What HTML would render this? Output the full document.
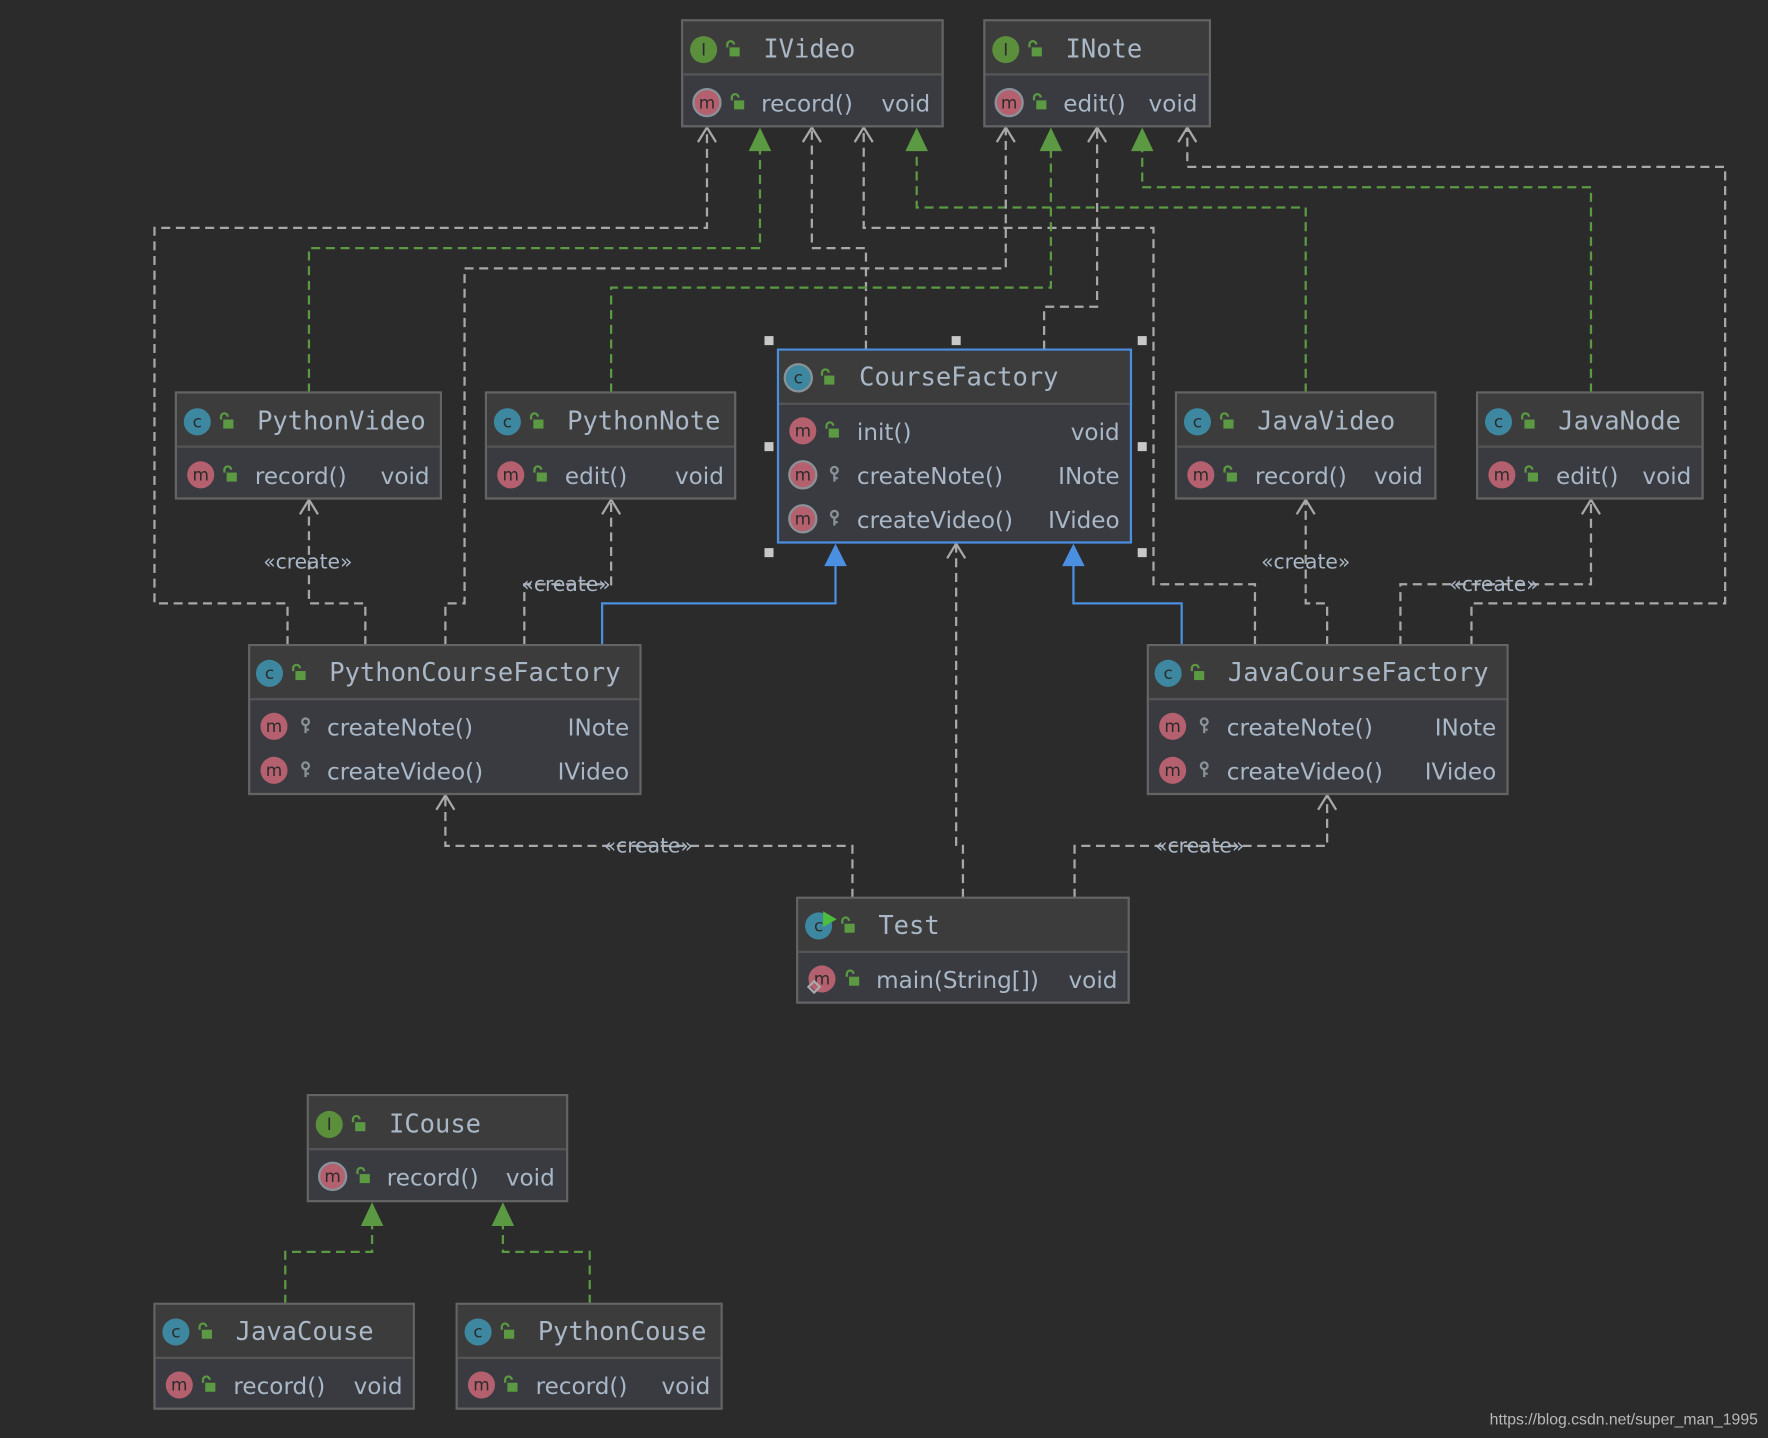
<!DOCTYPE html>
<html><head><meta charset="utf-8"><style>
html,body{margin:0;padding:0;background:#2b2b2b;}
svg{display:block}
text{white-space:pre}
.h{font-family:"DejaVu Sans Mono","Liberation Mono",monospace;font-size:22.6px;fill:#a9b7c6}
.r{font-family:"DejaVu Sans","Liberation Sans",sans-serif;font-size:20.5px;fill:#a9b7c6}
.lb{font-family:"DejaVu Sans","Liberation Sans",sans-serif;font-size:18px;fill:#a9b7c6}
.il{font-family:"DejaVu Sans",sans-serif;font-size:15px;fill:#2b2b2b;text-anchor:middle}
.g{fill:none;stroke:#a8a8a8;stroke-width:2;stroke-dasharray:8 5}
.gr{fill:none;stroke:#5b9a43;stroke-width:2;stroke-dasharray:8 5}
.bl{fill:none;stroke:#4a8fe0;stroke-width:2}
</style></head><body>
<svg width="1768" height="1438" viewBox="0 0 1568 1275" preserveAspectRatio="none" xmlns="http://www.w3.org/2000/svg" xml:space="preserve">
<defs>
<marker id="oa" markerWidth="20" markerHeight="20" refX="18" refY="10" orient="auto" markerUnits="userSpaceOnUse" viewBox="0 0 20 20"><path d="M5 2 L18 10 L5 18" fill="none" stroke="#a8a8a8" stroke-width="2"/></marker>
<g id="lk"><path d="M1 4 V1.5 A3 3 0 0 1 7 1.5" fill="none" stroke="#5b9a43" stroke-width="2"/><rect x="3" y="4" width="9" height="8" fill="#5b9a43"/></g>
<g id="key"><circle cx="4" cy="3" r="3" fill="none" stroke="#8a9299" stroke-width="2"/><rect x="3" y="5" width="2" height="8" fill="#8a9299"/><rect x="5" y="9" width="2" height="2" fill="#8a9299"/></g>
</defs>
<rect width="1568" height="1275" fill="#2b2b2b"/>

<g>
<path class="g" d="M255 572 V535 H137 V202 H627 V113" marker-end="url(#oa)"/>
<path class="gr" d="M274 348 V220 H674 V132"/>
<path class="g" d="M768 310 V220 H720 V113" marker-end="url(#oa)"/>
<path class="g" d="M1113 572 V518 H1023 V202 H766 V113" marker-end="url(#oa)"/>
<path class="gr" d="M1158 348 V184 H813 V132"/>
<path class="g" d="M395 572 V535 H412 V238 H892 V113" marker-end="url(#oa)"/>
<path class="gr" d="M542 348 V255 H932 V132"/>
<path class="g" d="M926 310 V272 H973 V113" marker-end="url(#oa)"/>
<path class="gr" d="M1411 348 V166 H1013 V132"/>
<path class="g" d="M1305 572 V535 H1530 V148 H1053 V113" marker-end="url(#oa)"/>
<path class="g" d="M324 572 V535 H274 V443" marker-end="url(#oa)"/>
<path class="g" d="M465 572 V518 H542 V443" marker-end="url(#oa)"/>
<path class="bl" d="M534 572 V535 H741 V500"/>
<path class="bl" d="M1048 572 V535 H952 V500"/>
<path class="g" d="M854 796 V750 H848 V482" marker-end="url(#oa)"/>
<path class="g" d="M1177 572 V535 H1158 V443" marker-end="url(#oa)"/>
<path class="g" d="M1242 572 V518 H1411 V443" marker-end="url(#oa)"/>
<path class="g" d="M756 796 V750 H395 V705" marker-end="url(#oa)"/>
<path class="g" d="M953 796 V750 H1177 V705" marker-end="url(#oa)"/>
<path class="gr" d="M253 1156 V1110 H330 V1085"/>
<path class="gr" d="M523 1156 V1110 H446 V1085"/>
<g fill="#5b9a43">
<path d="M674 113 L664 134 L684 134Z"/><path d="M813 113 L803 134 L823 134Z"/>
<path d="M932 113 L922 134 L942 134Z"/><path d="M1013 113 L1003 134 L1023 134Z"/>
<path d="M330 1066 L320 1087 L340 1087Z"/><path d="M446 1066 L436 1087 L456 1087Z"/>
</g>
<g fill="#4a8fe0"><path d="M741 482 L731 502 L751 502Z"/><path d="M952 482 L942 502 L962 502Z"/></g>
<text class="lb" x="273" y="504" text-anchor="middle">«create»</text>
<text class="lb" x="502" y="524" text-anchor="middle">«create»</text>
<text class="lb" x="1158" y="504" text-anchor="middle">«create»</text>
<text class="lb" x="1325" y="524" text-anchor="middle">«create»</text>
<text class="lb" x="575" y="756" text-anchor="middle">«create»</text>
<text class="lb" x="1064" y="756" text-anchor="middle">«create»</text>
</g>

<g>
<rect x="605" y="18" width="231" height="94" fill="#393b40" stroke="#646464" stroke-width="2"/>
<rect x="606" y="19" width="229" height="47" fill="#3c3c3c"/><line x1="606" y1="66" x2="835" y2="66" stroke="#555" stroke-width="2"/>
<circle cx="624" cy="44" r="12" fill="#5b8f3c"/><text class="il" x="624" y="49">I</text><use href="#lk" x="644" y="38"/>
<text class="h" x="677" y="51">IVideo</text>
<circle cx="627" cy="91" r="12" fill="#b5606e" stroke="#8a9299" stroke-width="2"/><text class="il" x="627" y="96">m</text><use href="#lk" x="648" y="85"/>
<text class="r" x="675" y="99">record()</text><text class="r" x="825" y="99" text-anchor="end">void</text>
</g>
<g>
<rect x="873" y="18" width="200" height="94" fill="#393b40" stroke="#646464" stroke-width="2"/>
<rect x="874" y="19" width="198" height="47" fill="#3c3c3c"/><line x1="874" y1="66" x2="1072" y2="66" stroke="#555" stroke-width="2"/>
<circle cx="892" cy="44" r="12" fill="#5b8f3c"/><text class="il" x="892" y="49">I</text><use href="#lk" x="912" y="38"/>
<text class="h" x="945" y="51">INote</text>
<circle cx="895" cy="91" r="12" fill="#b5606e" stroke="#8a9299" stroke-width="2"/><text class="il" x="895" y="96">m</text><use href="#lk" x="916" y="85"/>
<text class="r" x="943" y="99">edit()</text><text class="r" x="1062" y="99" text-anchor="end">void</text>
</g>
<g>
<rect x="690" y="310" width="313" height="171" fill="#393b40" stroke="#4a8fe0" stroke-width="2"/>
<rect x="691" y="311" width="311" height="47" fill="#3c3c3c"/><line x1="691" y1="358" x2="1002" y2="358" stroke="#555" stroke-width="2"/>
<circle cx="708" cy="335" r="12" fill="#3d88a0" stroke="#8a9299" stroke-width="2"/><text class="il" x="708" y="340">c</text><use href="#lk" x="728" y="329"/>
<text class="h" x="762" y="342">CourseFactory</text>
<circle cx="712" cy="382" r="12" fill="#b5606e"/><text class="il" x="712" y="387">m</text><use href="#lk" x="732" y="376"/>
<text class="r" x="760" y="390">init()</text><text class="r" x="993" y="390" text-anchor="end">void</text>
<circle cx="712" cy="421" r="12" fill="#b5606e" stroke="#8a9299" stroke-width="2"/><text class="il" x="712" y="426">m</text><use href="#key" x="736" y="414"/>
<text class="r" x="760" y="429">createNote()</text><text class="r" x="993" y="429" text-anchor="end">INote</text>
<circle cx="712" cy="460" r="12" fill="#b5606e" stroke="#8a9299" stroke-width="2"/><text class="il" x="712" y="465">m</text><use href="#key" x="736" y="453"/>
<text class="r" x="760" y="468">createVideo()</text><text class="r" x="993" y="468" text-anchor="end">IVideo</text>
</g>
<g fill="#c8c8c8"><rect x="678" y="298" width="8" height="8"/><rect x="844" y="298" width="8" height="8"/><rect x="1009" y="298" width="8" height="8"/><rect x="678" y="392" width="8" height="8"/><rect x="1009" y="392" width="8" height="8"/><rect x="678" y="486" width="8" height="8"/><rect x="1009" y="486" width="8" height="8"/></g>

<g>
<rect x="156" y="348" width="235" height="94" fill="#393b40" stroke="#646464" stroke-width="2"/>
<rect x="157" y="349" width="233" height="47" fill="#3c3c3c"/><line x1="157" y1="396" x2="390" y2="396" stroke="#555" stroke-width="2"/>
<circle cx="175" cy="374" r="12" fill="#3d88a0"/><text class="il" x="175" y="379">c</text><use href="#lk" x="195" y="368"/>
<text class="h" x="228" y="381">PythonVideo</text>
<circle cx="178" cy="421" r="12" fill="#b5606e"/><text class="il" x="178" y="426">m</text><use href="#lk" x="198" y="415"/>
<text class="r" x="226" y="429">record()</text><text class="r" x="381" y="429" text-anchor="end">void</text>
</g>
<g>
<rect x="431" y="348" width="221" height="94" fill="#393b40" stroke="#646464" stroke-width="2"/>
<rect x="432" y="349" width="219" height="47" fill="#3c3c3c"/><line x1="432" y1="396" x2="651" y2="396" stroke="#555" stroke-width="2"/>
<circle cx="450" cy="374" r="12" fill="#3d88a0"/><text class="il" x="450" y="379">c</text><use href="#lk" x="470" y="368"/>
<text class="h" x="503" y="381">PythonNote</text>
<circle cx="453" cy="421" r="12" fill="#b5606e"/><text class="il" x="453" y="426">m</text><use href="#lk" x="473" y="415"/>
<text class="r" x="501" y="429">edit()</text><text class="r" x="642" y="429" text-anchor="end">void</text>
</g>
<g>
<rect x="1043" y="348" width="230" height="94" fill="#393b40" stroke="#646464" stroke-width="2"/>
<rect x="1044" y="349" width="228" height="47" fill="#3c3c3c"/><line x1="1044" y1="396" x2="1272" y2="396" stroke="#555" stroke-width="2"/>
<circle cx="1062" cy="374" r="12" fill="#3d88a0"/><text class="il" x="1062" y="379">c</text><use href="#lk" x="1082" y="368"/>
<text class="h" x="1115" y="381">JavaVideo</text>
<circle cx="1065" cy="421" r="12" fill="#b5606e"/><text class="il" x="1065" y="426">m</text><use href="#lk" x="1085" y="415"/>
<text class="r" x="1113" y="429">record()</text><text class="r" x="1262" y="429" text-anchor="end">void</text>
</g>
<g>
<rect x="1310" y="348" width="200" height="94" fill="#393b40" stroke="#646464" stroke-width="2"/>
<rect x="1311" y="349" width="198" height="47" fill="#3c3c3c"/><line x1="1311" y1="396" x2="1509" y2="396" stroke="#555" stroke-width="2"/>
<circle cx="1329" cy="374" r="12" fill="#3d88a0"/><text class="il" x="1329" y="379">c</text><use href="#lk" x="1349" y="368"/>
<text class="h" x="1382" y="381">JavaNode</text>
<circle cx="1332" cy="421" r="12" fill="#b5606e"/><text class="il" x="1332" y="426">m</text><use href="#lk" x="1352" y="415"/>
<text class="r" x="1380" y="429">edit()</text><text class="r" x="1500" y="429" text-anchor="end">void</text>
</g>
<g>
<rect x="221" y="572" width="347" height="132" fill="#393b40" stroke="#646464" stroke-width="2"/>
<rect x="222" y="573" width="345" height="47" fill="#3c3c3c"/><line x1="222" y1="620" x2="567" y2="620" stroke="#555" stroke-width="2"/>
<circle cx="239" cy="597" r="12" fill="#3d88a0"/><text class="il" x="239" y="602">c</text><use href="#lk" x="259" y="591"/>
<text class="h" x="292" y="604">PythonCourseFactory</text>
<circle cx="243" cy="644" r="12" fill="#b5606e"/><text class="il" x="243" y="649">m</text><use href="#key" x="267" y="637"/>
<text class="r" x="290" y="652">createNote()</text><text class="r" x="558" y="652" text-anchor="end">INote</text>
<circle cx="243" cy="683" r="12" fill="#b5606e"/><text class="il" x="243" y="688">m</text><use href="#key" x="267" y="676"/>
<text class="r" x="290" y="691">createVideo()</text><text class="r" x="558" y="691" text-anchor="end">IVideo</text>
</g>
<g>
<rect x="1018" y="572" width="319" height="132" fill="#393b40" stroke="#646464" stroke-width="2"/>
<rect x="1019" y="573" width="317" height="47" fill="#3c3c3c"/><line x1="1019" y1="620" x2="1336" y2="620" stroke="#555" stroke-width="2"/>
<circle cx="1036" cy="597" r="12" fill="#3d88a0"/><text class="il" x="1036" y="602">c</text><use href="#lk" x="1056" y="591"/>
<text class="h" x="1089" y="604">JavaCourseFactory</text>
<circle cx="1040" cy="644" r="12" fill="#b5606e"/><text class="il" x="1040" y="649">m</text><use href="#key" x="1064" y="637"/>
<text class="r" x="1088" y="652">createNote()</text><text class="r" x="1327" y="652" text-anchor="end">INote</text>
<circle cx="1040" cy="683" r="12" fill="#b5606e"/><text class="il" x="1040" y="688">m</text><use href="#key" x="1064" y="676"/>
<text class="r" x="1088" y="691">createVideo()</text><text class="r" x="1327" y="691" text-anchor="end">IVideo</text>
</g>
<g>
<rect x="707" y="796" width="294" height="93" fill="#393b40" stroke="#646464" stroke-width="2"/>
<rect x="708" y="797" width="292" height="47" fill="#3c3c3c"/><line x1="708" y1="844" x2="1000" y2="844" stroke="#555" stroke-width="2"/>
<circle cx="726" cy="821" r="12" fill="#3d88a0"/><text class="il" x="726" y="826">c</text><path d="M730 808 L742 815 L730 822Z" fill="#4cbd3c"/><use href="#lk" x="746" y="815"/>
<text class="h" x="779" y="828">Test</text>
<circle cx="729" cy="868" r="12" fill="#b5606e"/><text class="il" x="729" y="873">m</text><path d="M722 870 L727 875 L722 880 L717 875Z" fill="none" stroke="#aaa" stroke-width="2"/><use href="#lk" x="750" y="862"/>
<text class="r" x="777" y="876">main(String[])</text><text class="r" x="991" y="876" text-anchor="end">void</text>
</g>
<g>
<rect x="273" y="971" width="230" height="94" fill="#393b40" stroke="#646464" stroke-width="2"/>
<rect x="274" y="972" width="228" height="47" fill="#3c3c3c"/><line x1="274" y1="1019" x2="502" y2="1019" stroke="#555" stroke-width="2"/>
<circle cx="292" cy="997" r="12" fill="#5b8f3c"/><text class="il" x="292" y="1002">I</text><use href="#lk" x="312" y="991"/>
<text class="h" x="345" y="1004">ICouse</text>
<circle cx="295" cy="1043" r="12" fill="#b5606e" stroke="#8a9299" stroke-width="2"/><text class="il" x="295" y="1048">m</text><use href="#lk" x="316" y="1037"/>
<text class="r" x="343" y="1051">record()</text><text class="r" x="492" y="1051" text-anchor="end">void</text>
</g>
<g>
<rect x="137" y="1156" width="230" height="93" fill="#393b40" stroke="#646464" stroke-width="2"/>
<rect x="138" y="1157" width="228" height="47" fill="#3c3c3c"/><line x1="138" y1="1204" x2="366" y2="1204" stroke="#555" stroke-width="2"/>
<circle cx="156" cy="1181" r="12" fill="#3d88a0"/><text class="il" x="156" y="1186">c</text><use href="#lk" x="176" y="1175"/>
<text class="h" x="209" y="1188">JavaCouse</text>
<circle cx="159" cy="1228" r="12" fill="#b5606e"/><text class="il" x="159" y="1233">m</text><use href="#lk" x="179" y="1222"/>
<text class="r" x="207" y="1236">record()</text><text class="r" x="357" y="1236" text-anchor="end">void</text>
</g>
<g>
<rect x="405" y="1156" width="235" height="93" fill="#393b40" stroke="#646464" stroke-width="2"/>
<rect x="406" y="1157" width="233" height="47" fill="#3c3c3c"/><line x1="406" y1="1204" x2="639" y2="1204" stroke="#555" stroke-width="2"/>
<circle cx="424" cy="1181" r="12" fill="#3d88a0"/><text class="il" x="424" y="1186">c</text><use href="#lk" x="444" y="1175"/>
<text class="h" x="477" y="1188">PythonCouse</text>
<circle cx="427" cy="1228" r="12" fill="#b5606e"/><text class="il" x="427" y="1233">m</text><use href="#lk" x="447" y="1222"/>
<text class="r" x="475" y="1236">record()</text><text class="r" x="630" y="1236" text-anchor="end">void</text>
</g>
<text x="1559" y="1263" text-anchor="end" style="font-family:'Liberation Sans',sans-serif;font-size:14px;fill:#b8b8b8">https://blog.csdn.net/super_man_1995</text>
</svg>
</body></html>
